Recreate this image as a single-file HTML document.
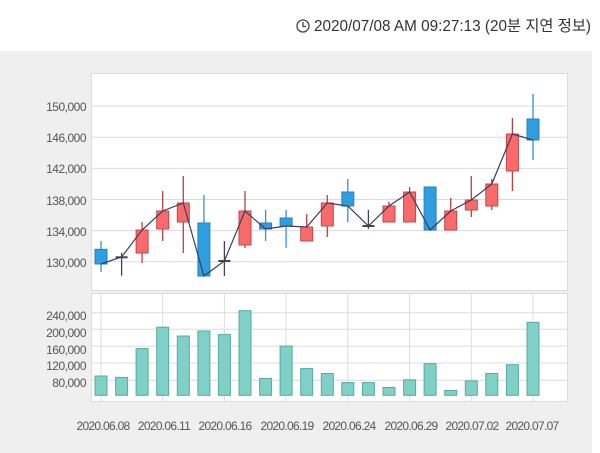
<!DOCTYPE html>
<html><head><meta charset="utf-8"><style>
html,body{margin:0;padding:0;background:#fff;width:600px;height:453px;overflow:hidden}
svg{display:block}
text{font-family:"Liberation Sans","Noto Sans CJK KR",sans-serif}
</style></head><body>
<svg width="600" height="453" viewBox="0 0 600 453" xmlns="http://www.w3.org/2000/svg">
<rect x="0" y="51" width="592" height="402" fill="#efefef"/>
<circle cx="303" cy="26" r="6" fill="none" stroke="#444" stroke-width="1.3"/>
<path d="M303 22v4.5h3" fill="none" stroke="#444" stroke-width="1.3"/>
<text x="591" y="31" font-size="15.3" fill="#333" text-anchor="end">2020/07/08 AM 09:27:13 (20분 지연 정보)</text>
<!-- price panel -->
<rect x="91.5" y="73.5" width="476" height="217" fill="#fff" stroke="#ddd"/>
<g stroke="#dcdcdc" stroke-width="1">
<line x1="92" x2="567" y1="106" y2="106"/><line x1="92" x2="567" y1="137.3" y2="137.3"/>
<line x1="92" x2="567" y1="168.4" y2="168.4"/><line x1="92" x2="567" y1="199.5" y2="199.5"/>
<line x1="92" x2="567" y1="230.6" y2="230.6"/><line x1="92" x2="567" y1="261.7" y2="261.7"/>
</g>
<g font-size="12" fill="#555" text-anchor="end" letter-spacing="-0.5">
<text x="86" y="111">150,000</text><text x="86" y="142">146,000</text><text x="86" y="173">142,000</text>
<text x="86" y="205">138,000</text><text x="86" y="236">134,000</text><text x="86" y="267">130,000</text>
</g>
<g stroke-width="1.3">
<line x1="101" x2="101" y1="241" y2="272" stroke="#3a8fc8"/>
<line x1="121.6" x2="121.6" y1="252.7" y2="275.7" stroke="#445"/>
<line x1="142.1" x2="142.1" y1="222" y2="263" stroke="#b84040"/>
<line x1="162.7" x2="162.7" y1="191" y2="241" stroke="#b84040"/>
<line x1="183.3" x2="183.3" y1="176" y2="253" stroke="#b84040"/>
<line x1="203.9" x2="203.9" y1="195" y2="276" stroke="#3a8fc8"/>
<line x1="224.4" x2="224.4" y1="241" y2="276" stroke="#445"/>
<line x1="245" x2="245" y1="191" y2="248" stroke="#b84040"/>
<line x1="265.6" x2="265.6" y1="210" y2="241" stroke="#3a8fc8"/>
<line x1="286.1" x2="286.1" y1="210" y2="248" stroke="#3a8fc8"/>
<line x1="306.7" x2="306.7" y1="214" y2="241" stroke="#b84040"/>
<line x1="327.3" x2="327.3" y1="195" y2="237" stroke="#b84040"/>
<line x1="347.8" x2="347.8" y1="179" y2="222" stroke="#3a8fc8"/>
<line x1="368.4" x2="368.4" y1="210" y2="229" stroke="#445"/>
<line x1="389" x2="389" y1="202" y2="222" stroke="#b84040"/>
<line x1="409.6" x2="409.6" y1="187" y2="222" stroke="#b84040"/>
<line x1="450.7" x2="450.7" y1="198" y2="230" stroke="#b84040"/>
<line x1="471.3" x2="471.3" y1="176" y2="217" stroke="#b84040"/>
<line x1="491.8" x2="491.8" y1="179" y2="210" stroke="#b84040"/>
<line x1="512.4" x2="512.4" y1="118" y2="191" stroke="#b84040"/>
<line x1="533" x2="533" y1="94" y2="160" stroke="#3a8fc8"/>
</g>
<g fill="#2f9ee0" stroke="#2a80c0">
<rect x="95" y="249.3" width="12" height="14.7"/>
<rect x="197.9" y="223" width="12" height="53"/>
<rect x="259.6" y="223" width="12" height="6"/>
<rect x="280.1" y="218" width="12" height="8"/>
<rect x="341.8" y="192" width="12" height="14"/>
<rect x="424.1" y="187" width="12" height="43"/>
<rect x="527" y="119" width="12" height="21"/>
</g>
<g fill="#fa6a6a" stroke="#c04848">
<rect x="136.1" y="230" width="12" height="23"/>
<rect x="156.7" y="211" width="12" height="18"/>
<rect x="177.3" y="203" width="12" height="19"/>
<rect x="239" y="211" width="12" height="34"/>
<rect x="300.7" y="227" width="12" height="14"/>
<rect x="321.3" y="203" width="12" height="23"/>
<rect x="383" y="206" width="12" height="16"/>
<rect x="403.6" y="192" width="12" height="30"/>
<rect x="444.7" y="211" width="12" height="19"/>
<rect x="465.3" y="200" width="12" height="10"/>
<rect x="485.8" y="184" width="12" height="22"/>
<rect x="506.4" y="134" width="12" height="37"/>
</g>
<g stroke="#445" stroke-width="2">
<line x1="115.6" x2="127.6" y1="257.3" y2="257.3"/>
<line x1="218.4" x2="230.4" y1="261" y2="261"/>
<line x1="362.4" x2="374.4" y1="226" y2="226"/>
</g>
<polyline fill="none" stroke="#3c3c60" stroke-width="1.2" points="101,264 121.6,257 142.1,230 162.7,211 183.3,203 203.9,276 224.4,261 245,211 265.6,229 286.1,226 306.7,227 327.3,203 347.8,206 368.4,226 389,206 409.6,192 430.1,230 450.7,211 471.3,200 491.8,184 512.4,134 533,140"/>
<rect x="91.5" y="293.5" width="476" height="108" fill="#fff" stroke="#ddd"/>
<g stroke="#dcdcdc">
<line x1="92" x2="567" y1="312.8" y2="312.8"/><line x1="92" x2="567" y1="329.3" y2="329.3"/>
<line x1="92" x2="567" y1="346.1" y2="346.1"/><line x1="92" x2="567" y1="363" y2="363"/>
<line x1="92" x2="567" y1="380.2" y2="380.2"/>
<line x1="101" x2="101" y1="294" y2="401"/><line x1="162.7" x2="162.7" y1="294" y2="401"/>
<line x1="224.4" x2="224.4" y1="294" y2="401"/><line x1="286.1" x2="286.1" y1="294" y2="401"/>
<line x1="347.8" x2="347.8" y1="294" y2="401"/><line x1="409.6" x2="409.6" y1="294" y2="401"/>
<line x1="471.3" x2="471.3" y1="294" y2="401"/><line x1="533" x2="533" y1="294" y2="401"/>
</g>
<g font-size="12" fill="#555" text-anchor="end" letter-spacing="-0.5">
<text x="86" y="320">240,000</text><text x="86" y="337">200,000</text><text x="86" y="354">160,000</text>
<text x="86" y="370">120,000</text><text x="86" y="387">80,000</text>
</g>
<g fill="#7fd0c6" stroke="#5aa8a0" stroke-width="1">
<rect x="95" y="376" width="12" height="19.3"/>
<rect x="115.6" y="377.4" width="12" height="17.9"/>
<rect x="136.1" y="348.6" width="12" height="46.7"/>
<rect x="156.7" y="327.2" width="12" height="68.1"/>
<rect x="177.3" y="336" width="12" height="59.3"/>
<rect x="197.9" y="331" width="12" height="64.3"/>
<rect x="218.4" y="334.6" width="12" height="60.7"/>
<rect x="239" y="310.7" width="12" height="84.6"/>
<rect x="259.6" y="378.4" width="12" height="16.9"/>
<rect x="280.1" y="346.1" width="12" height="49.2"/>
<rect x="300.7" y="368.6" width="12" height="26.7"/>
<rect x="321.3" y="373.5" width="12" height="21.8"/>
<rect x="341.8" y="382.6" width="12" height="12.7"/>
<rect x="362.4" y="382.6" width="12" height="12.7"/>
<rect x="383" y="387.5" width="12" height="7.8"/>
<rect x="403.6" y="379.8" width="12" height="15.5"/>
<rect x="424.1" y="363.7" width="12" height="31.6"/>
<rect x="444.7" y="390.4" width="12" height="4.9"/>
<rect x="465.3" y="380.9" width="12" height="14.4"/>
<rect x="485.8" y="373.5" width="12" height="21.8"/>
<rect x="506.4" y="364.7" width="12" height="30.6"/>
<rect x="527" y="322.3" width="12" height="73"/>
</g>
<g font-size="12" fill="#555" text-anchor="middle" letter-spacing="-0.7">
<text x="103" y="430">2020.06.08</text><text x="164" y="430">2020.06.11</text>
<text x="225" y="430">2020.06.16</text><text x="287" y="430">2020.06.19</text>
<text x="349" y="430">2020.06.24</text><text x="411" y="430">2020.06.29</text>
<text x="472" y="430">2020.07.02</text><text x="532" y="430">2020.07.07</text>
</g>
</svg>
</body></html>
